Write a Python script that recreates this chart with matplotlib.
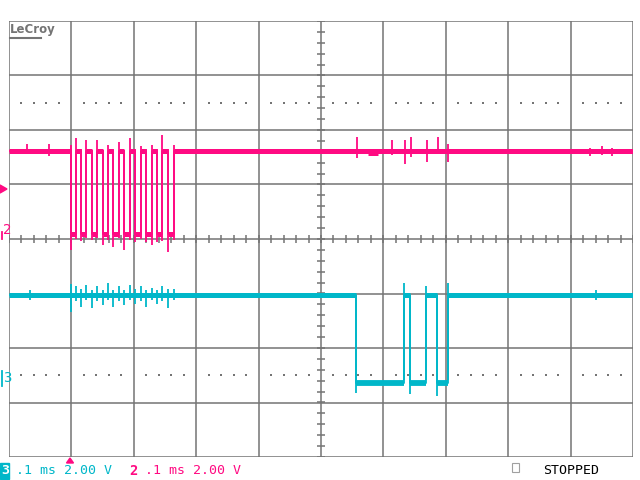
import numpy as np
import matplotlib
matplotlib.use("Agg")
import matplotlib.pyplot as plt

# ── trace data (time in ms, levels in V, 0.1 ms/div, 2 V/div) ─────────────
ch2_fall_t = [0.0994, 0.1154, 0.1325, 0.1502, 0.1671, 0.1843, 0.2024, 0.2200, 0.2377, 0.2553]
ch2_rise_t = [0.1069, 0.1239, 0.1410, 0.1582, 0.1768, 0.1939, 0.2111, 0.2287, 0.2457, 0.2639]
ch2_high, ch2_low = 3.23, 0.18

ch2_spike_t = [0.0296, 0.0641, 0.0994, 0.1069, 0.1154, 0.1239, 0.1325, 0.1410, 0.1502, 0.1582,
               0.1671, 0.1768, 0.1843, 0.1939, 0.2024, 0.2111, 0.2200, 0.2287, 0.2377, 0.2457,
               0.2553, 0.2639, 0.5572, 0.6133, 0.6346, 0.6438, 0.6694, 0.6870, 0.7040,
               0.9310, 0.9500, 0.9660]
ch2_spike_lo = [3.12, 3.05, -0.39, 0.00, -0.06, 0.02, -0.03, 0.05, -0.21, -0.04,
                -0.30, 0.02, -0.39, -0.04, -0.10, 0.00, -0.12, -0.22, -0.11, -0.08,
                -0.48, -0.02, 2.97, 3.08, 2.75, 3.01, 2.83, 3.15, 2.83,
                3.05, 3.10, 3.05]
ch2_spike_hi = [3.49, 3.49, 3.45, 3.70, 3.30, 3.63, 3.25, 3.63, 3.28, 3.45,
                3.30, 3.55, 3.28, 3.70, 3.30, 3.40, 3.30, 3.45, 3.30, 3.80,
                3.30, 3.45, 3.75, 3.63, 3.63, 3.74, 3.63, 3.74, 3.49,
                3.35, 3.40, 3.35]
ch2_dip_t = [0.575, 0.591]
ch2_dip_v = 3.16

ch3_fall_t = [0.5566, 0.6431, 0.6864]
ch3_rise_t = [0.6335, 0.6688, 0.7040]
ch3_high, ch3_low = 3.21, 0.0

ch3_spike_t = [0.0330, 0.0994, 0.1069, 0.1154, 0.1239, 0.1325, 0.1410, 0.1502, 0.1582,
               0.1671, 0.1768, 0.1843, 0.1939, 0.2024, 0.2111, 0.2200, 0.2287, 0.2377,
               0.2457, 0.2553, 0.2639, 0.5566, 0.6335, 0.6431, 0.6688, 0.6864, 0.7040,
               0.9400]
ch3_spike_lo = [3.05, 2.61, 3.00, 2.80, 3.05, 2.75, 3.00, 2.85, 3.05,
                2.80, 3.00, 2.85, 3.05, 2.90, 3.00, 2.80, 3.05, 2.90,
                3.00, 2.75, 3.05, -0.37, 0.10, -0.40, 0.10, -0.48, 0.10,
                3.05]
ch3_spike_hi = [3.40, 3.63, 3.55, 3.45, 3.60, 3.40, 3.55, 3.40, 3.65,
                3.40, 3.55, 3.40, 3.60, 3.45, 3.55, 3.40, 3.50, 3.40,
                3.55, 3.45, 3.45, 3.21, 3.67, 3.21, 3.56, 3.21, 3.67,
                3.40]

ch2_offset_div = 0.0      # ground marker of channel 2 (divisions from centre)
ch3_offset_div = -2.64    # ground marker of channel 3
volts_per_div = 2.0

MAGENTA = "#ff0a82"
CYAN = "#00b7c9"
GRID = "#747474"


def step_wave(fall_t, rise_t, hi, lo):
    t = [0.0]
    v = [hi]
    for f, r in zip(fall_t, rise_t):
        t += [f, f, r, r]
        v += [hi, lo, lo, hi]
    t.append(1.0); v.append(hi)
    return np.array(t), np.array(v)


def segments(fall_t, rise_t, hi, lo):
    hs = [(0.0, fall_t[0])] + [(r, f) for r, f in zip(rise_t[:-1], fall_t[1:])] + [(rise_t[-1], 1.0)]
    ls = list(zip(fall_t, rise_t))
    return hs, ls


def to_div(v, off):
    return off + np.asarray(v) / volts_per_div


fig = plt.figure(figsize=(6.4, 4.8), dpi=100)
fig.patch.set_facecolor("white")
ax = fig.add_axes([9 / 640, 1 - 457 / 480, 624 / 640, 436 / 480])
ax.set_xlim(0, 1)
ax.set_ylim(-4, 4)
ax.axis("off")

# ── graticule ────────────────────────────────────────────────────────────────
for x in np.arange(0, 1.0001, 0.1):
    ax.axvline(x, color=GRID, lw=1.1, zorder=1)
for y in range(-4, 5):
    ax.axhline(y, color=GRID, lw=1.1, zorder=1)
minor_x = np.arange(0, 1.0001, 0.02)
minor_y = np.arange(-4, 4.0001, 0.2)
ax.vlines(minor_x, -0.075, 0.075, color=GRID, lw=1.1, zorder=1)
ax.hlines(minor_y, 0.5 - 0.0065, 0.5 + 0.0065, color=GRID, lw=1.1, zorder=1)
dots_x = [x for x in minor_x if abs(x * 10 - round(x * 10)) > 1e-6]
for yy in (2.5, -2.5):
    ax.scatter(dots_x, [yy] * len(dots_x), s=0.6, color=GRID, marker="s", lw=0, zorder=1)

# ── channel 2 ────────────────────────────────────────────────────────────────
t2, v2 = step_wave(ch2_fall_t, ch2_rise_t, ch2_high, ch2_low)
ax.plot(t2, to_div(v2, ch2_offset_div), color=MAGENTA, lw=1.3, zorder=3)
hs, ls = segments(ch2_fall_t, ch2_rise_t, ch2_high, ch2_low)
for a, b in hs:
    ax.hlines(to_div(ch2_high, ch2_offset_div), a, b, color=MAGENTA, lw=3.6, zorder=3)
for a, b in ls:
    ax.hlines(to_div(ch2_low, ch2_offset_div), a, b, color=MAGENTA, lw=3.6, zorder=3)
ax.hlines(to_div(ch2_dip_v, ch2_offset_div), ch2_dip_t[0], ch2_dip_t[1], color=MAGENTA, lw=3.6, zorder=3)
ax.vlines(ch2_spike_t, to_div(ch2_spike_lo, ch2_offset_div), to_div(ch2_spike_hi, ch2_offset_div),
          color=MAGENTA, lw=1.3, zorder=3)

# ── channel 3 ────────────────────────────────────────────────────────────────
t3, v3 = step_wave(ch3_fall_t, ch3_rise_t, ch3_high, ch3_low)
ax.plot(t3, to_div(v3, ch3_offset_div), color=CYAN, lw=1.3, zorder=3)
hs, ls = segments(ch3_fall_t, ch3_rise_t, ch3_high, ch3_low)
for a, b in hs:
    ax.hlines(to_div(ch3_high, ch3_offset_div), a, b, color=CYAN, lw=3.6, zorder=3)
for a, b in ls:
    ax.hlines(to_div(ch3_low, ch3_offset_div), a, b, color=CYAN, lw=4.2, zorder=3)
ax.vlines(ch3_spike_t, to_div(ch3_spike_lo, ch3_offset_div), to_div(ch3_spike_hi, ch3_offset_div),
          color=CYAN, lw=1.3, zorder=3)


# ── screen annotations (figure pixel positions) ──────────────────────────────
def fx(px):
    return px / 640


def fy(py):
    return 1 - py / 480


mono = "DejaVu Sans Mono"
fig.text(fx(10), fy(30), "LeCroy", color=GRID, fontsize=8.5, fontweight="bold",
         va="center", ha="left")
fig.add_artist(plt.Line2D([fx(10), fx(41)], [fy(37.5), fy(37.5)], color=GRID, lw=1.5))

# left markers
fig.add_artist(plt.Polygon([[fx(0), fy(185)], [fx(0), fy(193)], [fx(7), fy(189)]],
                           closed=True, color=MAGENTA))
fig.text(fx(3), fy(230), "2", color=MAGENTA, fontsize=10, family=mono, va="center", ha="left")
fig.add_artist(plt.Line2D([fx(1.5), fx(1.5)], [fy(232), fy(239)], color=MAGENTA, lw=1.3))
fig.text(fx(3), fy(378), "3", color=CYAN, fontsize=10, family=mono, va="center", ha="left")
fig.add_artist(plt.Line2D([fx(1.5), fx(1.5)], [fy(371), fy(386)], color=CYAN, lw=1.3))

# trigger position marker under the grid
fig.add_artist(plt.Polygon([[fx(66.5), fy(463)], [fx(73.5), fy(463)], [fx(70), fy(458)]],
                           closed=True, color=MAGENTA))

# bottom status line
fig.add_artist(plt.Rectangle((fx(0), fy(479)), 8.5 / 640, 16 / 480, color=CYAN))
fig.text(fx(1), fy(471), "3", color="white", fontsize=9.5, fontweight="bold", family=mono,
         va="center", ha="left")
fig.text(fx(16), fy(471), ".1 ms 2.00 V", color=CYAN, fontsize=9.5, family=mono,
         va="center", ha="left")
fig.text(fx(129), fy(471), "2", color=MAGENTA, fontsize=10, fontweight="bold", family=mono,
         va="center", ha="left")
fig.text(fx(145), fy(471), ".1 ms 2.00 V", color=MAGENTA, fontsize=9.5, family=mono,
         va="center", ha="left")
fig.add_artist(plt.Rectangle((fx(512), fy(472)), 7 / 640, 9 / 480, fill=False,
                             edgecolor="#a0a0a0", lw=0.8))
fig.text(fx(543), fy(471), "STOPPED", color="black", fontsize=9.5, family=mono,
         va="center", ha="left")

fig.savefig("out.png", dpi=100, facecolor="white")
